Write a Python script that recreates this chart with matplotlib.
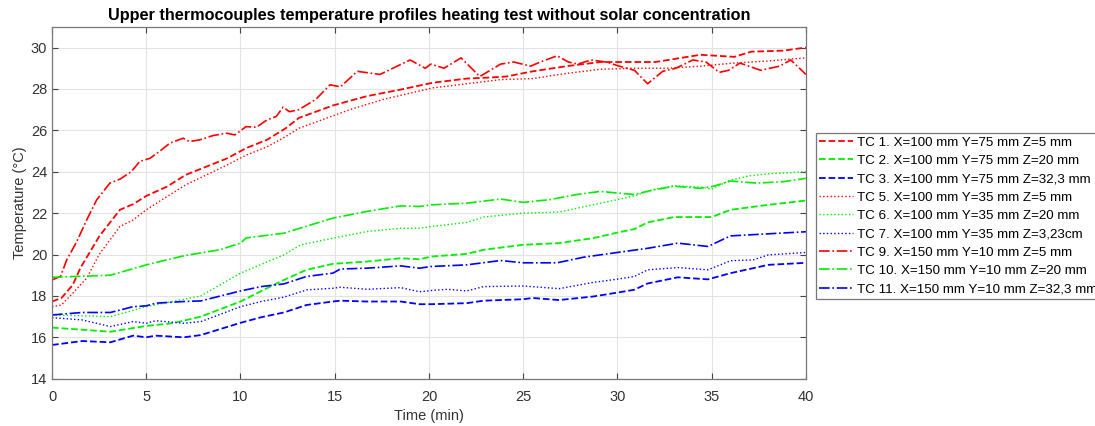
import matplotlib.pyplot as plt
import numpy as np

plt.rcParams['font.family'] = ['Liberation Sans', 'DejaVu Sans']

# Data (time in min, temperature in degC)
t_tc1 = [0, 0.5, 1.1, 1.5, 2.5, 3.6, 4.3, 5, 6.1, 7.1, 8.2, 9.3, 10.3, 11.4, 12.4, 13.1,
         14.9, 16.7, 18.5, 20.2, 22.0, 23.2, 24.1, 25.5, 27.3, 29.1, 30.9, 32.0, 32.7,
         34.4, 36.2, 37.1, 38.8, 40]
T_tc1 = [17.73, 17.9, 18.53, 19.34, 20.87, 22.16, 22.43, 22.83, 23.28, 23.85, 24.25, 24.65,
         25.14, 25.54, 26.1, 26.6, 27.2, 27.65, 27.97, 28.3, 28.5, 28.55, 28.6, 28.85, 29.1,
         29.3, 29.3, 29.3, 29.4, 29.65, 29.55, 29.8, 29.85, 30.0]

t_tc2 = [0, 3.1, 5, 6.4, 7.9, 10, 11.4, 12.3, 13.5, 14.9, 16.7, 18.5, 19.5, 20.1, 22, 22.9,
         25, 26.9, 28.7, 30, 30.9, 31.6, 33, 35, 36, 38, 40]
T_tc2 = [16.47, 16.27, 16.55, 16.68, 17.0, 17.73, 18.37, 18.77, 19.26, 19.55, 19.66, 19.82,
         19.77, 19.9, 20.03, 20.23, 20.47, 20.55, 20.79, 21.06, 21.23, 21.55, 21.81, 21.81,
         22.16, 22.4, 22.61]

t_tc3 = [0, 1.6, 3.1, 4.3, 5, 5.5, 7, 7.9, 10, 11.1, 12.3, 13.5, 14.9, 15.3, 16.7, 18.5,
         19.5, 20.1, 22, 22.9, 25, 25.5, 26.9, 28.7, 30, 30.9, 31.6, 33.2, 34.8, 36, 38, 40]
T_tc3 = [15.63, 15.82, 15.76, 16.08, 16.0, 16.08, 16.0, 16.11, 16.7, 16.97, 17.2, 17.56,
         17.73, 17.77, 17.73, 17.73, 17.6, 17.6, 17.65, 17.77, 17.84, 17.9, 17.8, 17.97,
         18.16, 18.3, 18.6, 18.9, 18.8, 19.1, 19.5, 19.6]

t_tc5 = [0, 0.5, 1.1, 1.84, 2.5, 3.6, 4.3, 5, 6.1, 7.1, 8.2, 9.3, 10.3, 11.4, 12.4, 13.1,
         14.9, 15.8, 17.6, 20.2, 22.0, 23.8, 25.5, 27.3, 29.1, 30.9, 32.7, 34.4, 36.2, 38.0, 40]
T_tc5 = [17.48, 17.56, 18.13, 18.86, 20.0, 21.35, 21.67, 22.16, 22.8, 23.37, 23.85, 24.33,
         24.8, 25.2, 25.7, 26.1, 26.7, 27.0, 27.5, 28.05, 28.25, 28.45, 28.5, 28.75, 28.95,
         29.0, 29.0, 29.1, 29.25, 29.35, 29.5]

t_tc6 = [0, 3.1, 5, 7.9, 10, 12.3, 13.2, 14.9, 16.7, 18.5, 19.5, 20.1, 22, 22.9, 25, 26.9,
         28.7, 30, 30.9, 32, 33, 34.4, 35, 36, 37, 38, 39, 40]
T_tc6 = [17.08, 17.0, 17.48, 18.0, 19.1, 19.98, 20.47, 20.79, 21.11, 21.27, 21.27, 21.35,
         21.55, 21.81, 22.0, 22.05, 22.4, 22.65, 22.84, 23.16, 23.32, 23.26, 23.16, 23.6,
         23.8, 23.9, 23.95, 24.0]

t_tc7 = [0, 1.6, 3.1, 4.3, 5, 5.5, 7, 7.9, 10, 11.1, 12.3, 13.5, 14.9, 15.3, 16.7, 18.5,
         19.5, 20.1, 21, 22, 22.9, 25, 26.9, 28.7, 30, 30.9, 31.6, 33.2, 34.8, 36, 37.2, 38, 40]
T_tc7 = [16.95, 16.84, 16.52, 16.76, 16.68, 16.8, 16.68, 16.76, 17.48, 17.73, 17.94, 18.29,
         18.37, 18.42, 18.32, 18.4, 18.2, 18.26, 18.32, 18.24, 18.45, 18.48, 18.35, 18.65,
         18.81, 18.94, 19.26, 19.37, 19.26, 19.7, 19.74, 19.98, 20.1]

t_tc9 = [0, 0.45, 0.78, 1.3, 1.84, 2.37, 3.07, 3.6, 4.2, 4.66, 5.2, 5.7, 6.25, 6.96, 7.3,
         7.84, 8.55, 9.26, 9.7, 10.3, 10.85, 11.4, 11.9, 12.26, 12.6, 13.1, 14.0, 14.75, 15.3,
         16.2, 17.4, 19.0, 19.8, 20.1, 20.8, 21.7, 22.7, 23.8, 24.5, 25.4, 25.9, 26.8, 27.4,
         27.9, 28.6, 29.4, 30.1, 30.9, 31.6, 32.4, 33.1, 34.0, 34.7, 35.4, 35.9, 36.5, 37.6,
         38.6, 39.2, 40]
T_tc9 = [18.77, 18.94, 19.74, 20.6, 21.67, 22.64, 23.45, 23.64, 24.0, 24.5, 24.65, 24.98,
         25.38, 25.62, 25.46, 25.54, 25.75, 25.86, 25.78, 26.18, 26.15, 26.5, 26.67, 27.12,
         26.9, 27.0, 27.5, 28.2, 28.1, 28.85, 28.7, 29.4, 29.0, 29.2, 29.0, 29.5, 28.6, 29.2,
         29.3, 29.1, 29.3, 29.6, 29.3, 29.2, 29.4, 29.3, 29.1, 28.9, 28.25, 28.85, 29.0, 29.4,
         29.3, 28.8, 28.9, 29.25, 28.9, 29.1, 29.4, 28.7]

t_tc10 = [0, 3.1, 5, 7, 8.9, 10, 10.3, 12.3, 14.9, 16.7, 18.5, 19.5, 20.1, 22, 23.8, 25,
          26.4, 27.85, 29.1, 30, 30.9, 31.8, 33, 34.4, 35.1, 36, 37.4, 38.8, 40]
T_tc10 = [18.9, 19.0, 19.5, 19.94, 20.23, 20.55, 20.8, 21.03, 21.76, 22.08, 22.35, 22.32,
          22.4, 22.48, 22.68, 22.52, 22.65, 22.9, 23.05, 22.97, 22.9, 23.1, 23.3, 23.2, 23.3,
          23.55, 23.45, 23.52, 23.68]

t_tc11 = [0, 1.6, 3.1, 4.3, 5, 5.5, 7, 7.9, 10, 11.1, 12.3, 13.5, 14.9, 15.3, 16.7, 18.5,
          19.5, 20.1, 22, 23.8, 25, 26.8, 28.2, 30, 31.6, 33.2, 34.8, 36, 38, 40]
T_tc11 = [17.08, 17.2, 17.2, 17.48, 17.52, 17.65, 17.73, 17.76, 18.24, 18.45, 18.58, 18.94,
          19.1, 19.3, 19.34, 19.45, 19.34, 19.42, 19.5, 19.71, 19.6, 19.6, 19.87, 20.1, 20.3,
          20.55, 20.39, 20.9, 21.0, 21.1]

labels = ['TC 1. X=100 mm Y=75 mm Z=5 mm', 'TC 2. X=100 mm Y=75 mm Z=20 mm',
          'TC 3. X=100 mm Y=75 mm Z=32,3 mm', 'TC 5. X=100 mm Y=35 mm Z=5 mm',
          'TC 6. X=100 mm Y=35 mm Z=20 mm', 'TC 7. X=100 mm Y=35 mm Z=3,23cm',
          'TC 9. X=150 mm Y=10 mm Z=5 mm', 'TC 10. X=150 mm Y=10 mm Z=20 mm',
          'TC 11. X=150 mm Y=10 mm Z=32,3 mm']

series = [(t_tc1, T_tc1), (t_tc2, T_tc2), (t_tc3, T_tc3),
          (t_tc5, T_tc5), (t_tc6, T_tc6), (t_tc7, T_tc7),
          (t_tc9, T_tc9), (t_tc10, T_tc10), (t_tc11, T_tc11)]
colors = ['#ff0000', '#00ee00', '#0000ff'] * 3
styles = ['--'] * 3 + [':'] * 3 + ['-.'] * 3
widths = [1.3] * 3 + [1.0] * 3 + [1.2] * 3

fig = plt.figure(figsize=(10.95, 4.26), dpi=100)
ax = fig.add_axes([0.0475, 0.111, 0.6885, 0.826])

for (t, T), c, ls, lw, lab in zip(series, colors, styles, widths, labels):
    ax.plot(t, T, color=c, linestyle=ls, linewidth=lw, label=lab)

ax.set_xlim(0, 40)
ax.set_ylim(14, 31)
ax.set_xticks(np.arange(0, 41, 5))
ax.set_yticks(np.arange(14, 31, 2))
ax.grid(True, color='#e3e3e3', linewidth=0.8)
ax.set_axisbelow(True)
ax.tick_params(direction='in', top=True, right=True, labelsize=10.5, colors='#444444',
               labelcolor='#333333', length=4)
ax.tick_params(axis='x', pad=8)
for s in ax.spines.values():
    s.set_color('#777777')
    s.set_linewidth(0.9)

ax.set_title('Upper thermocouples temperature profiles heating test without solar concentration',
             fontsize=11.7, fontweight='bold', pad=5)
ax.set_xlabel('Time (min)', fontsize=10.5, color='#333333', labelpad=4)
ax.set_ylabel('Temperature (°C)', fontsize=10.5, color='#333333', labelpad=3)

leg = fig.legend(loc='upper left', bbox_to_anchor=(816 / 1095, (426 - 133) / 426),
                 borderaxespad=0, fontsize=9.6, handlelength=2.5, handletextpad=0.3,
                 labelspacing=0.45, borderpad=0.25, fancybox=False, framealpha=1,
                 edgecolor='#777777')
leg.get_frame().set_linewidth(0.9)

plt.savefig('out.png', dpi=100)
